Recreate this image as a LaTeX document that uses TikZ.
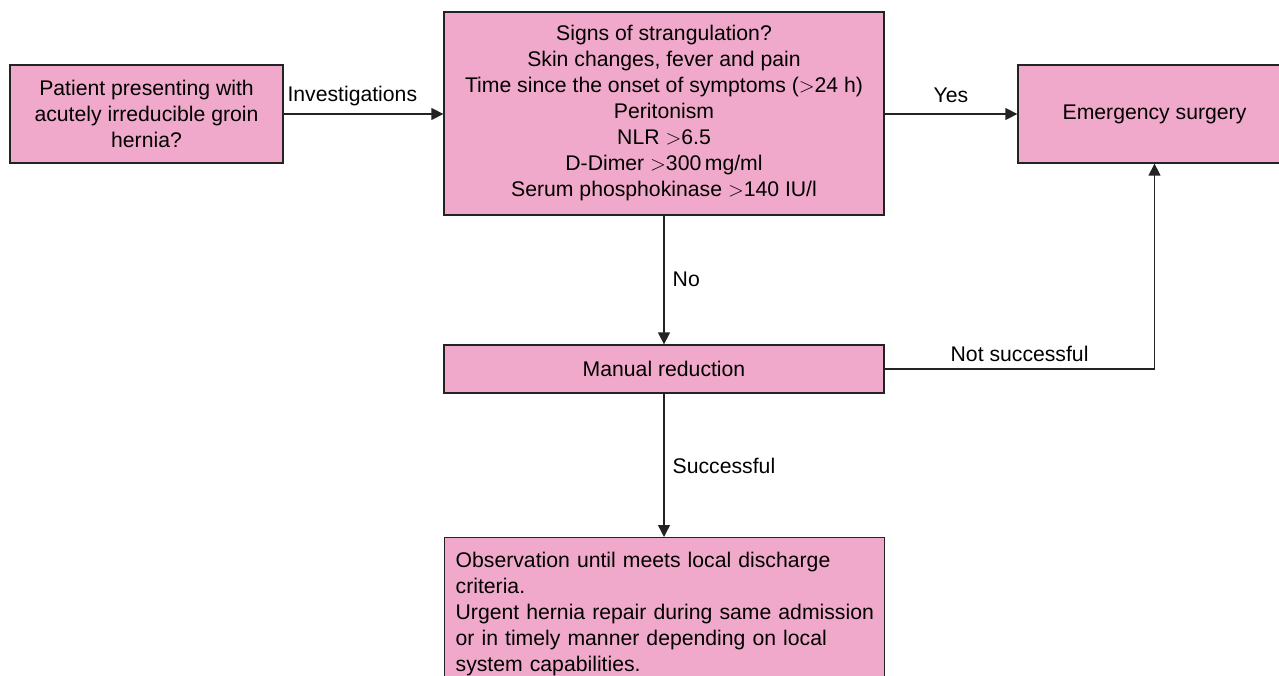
\documentclass[tikz,border=0pt]{standalone}
\usepackage{fontspec}
\setmainfont{Liberation Sans}
\usetikzlibrary{arrows.meta,calc}
\definecolor{boxpink}{RGB}{241,169,203}
\definecolor{edgecol}{RGB}{35,35,35}
\begin{document}
\begin{tikzpicture}[x=1pt,y=-1pt,
  txt/.style={font={\fontsize{21.2}{26}\selectfont}},
  box/.style={txt, draw=edgecol, line width=1.3pt, fill=boxpink, inner sep=0pt, align=center},
  conn/.style={draw=edgecol, line width=1.4pt, -{Triangle[length=12pt,width=12pt]}},
  lbl/.style={txt, inner sep=0pt, text=black}]
\useasboundingbox (0,0) rectangle (1279,676);
\clip (0,0) rectangle (1279,676);
\node[box, minimum width=273pt, minimum height=98pt] (pat) at (146.5,114)
  {Patient presenting with\\acutely irreducible groin\\hernia?};
\node[box, minimum width=440pt, minimum height=203pt] (sig) at (664,113.5)
  {Signs of strangulation?\\Skin changes, fever and pain\\Time since the onset of symptoms ($>$24 h)\\Peritonism\\NLR $>$6.5\\D-Dimer $>$300\,mg/ml\\Serum phosphokinase $>$140 IU/l};
\node[box, minimum width=273pt, minimum height=98pt] (es) at (1154.5,114) {Emergency surgery};
\node[box, minimum width=440pt, minimum height=48pt] (mr) at (664,369) {Manual reduction};
\node[box, anchor=north west, align=left, text width=418pt, inner xsep=11pt, inner ysep=14pt] (ob) at (444,537)
  {\mbox{Observation until meets local discharge}\\\mbox{criteria.}\\\mbox{Urgent hernia repair during same admission}\\\mbox{or in timely manner depending on local}\\\mbox{system capabilities.}};
\draw[conn] (pat.east) -- node[lbl, pos=0.43, anchor=base, yshift=12pt] (l1) {Investigations} (sig.west |- pat.east);
\draw[conn] (sig.east |- es.west) -- node[lbl, midway, anchor=base, yshift=11pt] (l2) {Yes} (es.west);
\draw[conn] (sig.south) -- node[lbl, pos=0.554, anchor=base west, xshift=8pt] (l3) {No} (mr.north);
\draw[conn] (mr.south) -- node[lbl, pos=0.556, anchor=base west, xshift=8pt] (l4) {Successful} (mr.south |- ob.north);
\draw[conn] (mr.east) -| node[lbl, pos=0.25, anchor=base, yshift=8pt] (l5) {Not successful} (es.south);
\end{tikzpicture}
\end{document}
